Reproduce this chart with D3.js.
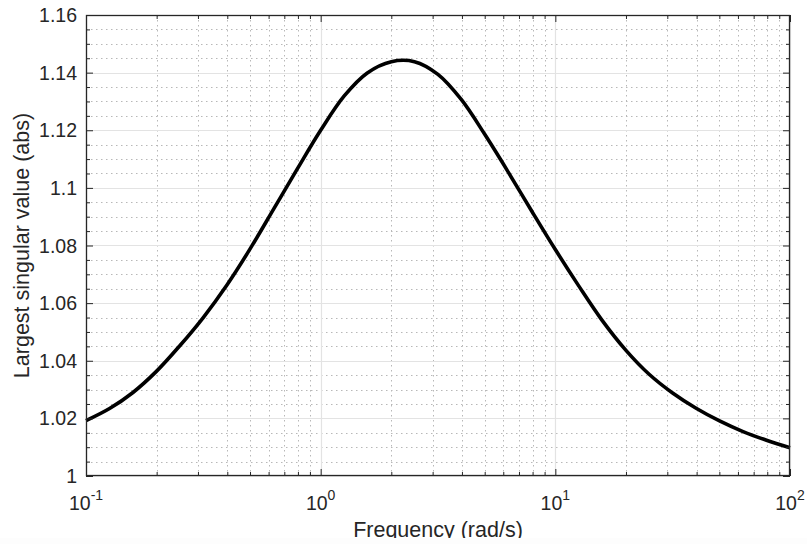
<!DOCTYPE html>
<html>
<head>
<meta charset="utf-8">
<script src="https://cdn.jsdelivr.net/npm/d3@7"></script>
<style>
  html, body { margin: 0; padding: 0; background: #ffffff; }
  svg { display: block; }
  text { font-family: "Liberation Sans", Arial, Helvetica, sans-serif; fill: #262626; }
</style>
</head>
<body>
<svg id="chart" width="807" height="544"></svg>
<script>
// ---- data (frequency in rad/s, value in abs) ----
const frequencies = [0.1, 0.126, 0.158, 0.2, 0.251, 0.316, 0.398, 0.501, 0.631, 0.794,
                     1, 1.26, 1.58, 2, 2.51, 3.16, 3.98, 5.01, 6.31, 7.94,
                     10, 12.6, 15.8, 20, 25.1, 31.6, 39.8, 50.1, 63.1, 79.4, 100];
const singularValues = [1.0192, 1.0234, 1.0289, 1.0364, 1.0452, 1.0550, 1.0662, 1.0789, 1.0927, 1.1065,
                        1.1200, 1.1319, 1.1399, 1.1438, 1.1438, 1.1394, 1.1306, 1.1185, 1.1054, 1.0919,
                        1.0786, 1.0659, 1.0541, 1.0436, 1.0353, 1.0288, 1.0235, 1.0191, 1.0154, 1.0124, 1.0098];
const xTickValues = [0.1, 1, 10, 100];
const xTickExponents = ["-1", "0", "1", "2"];
const yTickValues = [1, 1.02, 1.04, 1.06, 1.08, 1.1, 1.12, 1.14, 1.16];
const yTickLabels = ["1", "1.02", "1.04", "1.06", "1.08", "1.1", "1.12", "1.14", "1.16"];
const xLabel = "Frequency (rad/s)";
const yLabel = "Largest singular value (abs)";

// ---- layout ----
const W = 807, H = 544;
const L = 86, R = 790, T = 15, B = 476;

const svg = d3.select("#chart");
const x = d3.scaleLog().domain([0.1, 100]).range([L, R]);
const y = d3.scaleLinear().domain([1, 1.16]).range([B, T]);

// minor values
const xMinor = [];
for (let e = -1; e < 2; e++) for (let k = 2; k <= 9; k++) xMinor.push(k * Math.pow(10, e));
const yMinor = d3.range(0, 33).map(i => 1 + i * 0.005).filter(v => !yTickValues.some(t => Math.abs(t - v) < 1e-9));

const g = svg.append("g");

// minor grid (dotted)
g.selectAll(".xminor").data(xMinor).enter().append("line")
  .attr("x1", d => Math.round(x(d)) + 0.5).attr("x2", d => Math.round(x(d)) + 0.5)
  .attr("y1", T).attr("y2", B)
  .attr("stroke", "#b8b8b8").attr("stroke-width", 1).attr("stroke-dasharray", "1.5,3.5");
g.selectAll(".yminor").data(yMinor).enter().append("line")
  .attr("y1", d => Math.round(y(d)) + 0.5).attr("y2", d => Math.round(y(d)) + 0.5)
  .attr("x1", L).attr("x2", R)
  .attr("stroke", "#b8b8b8").attr("stroke-width", 1).attr("stroke-dasharray", "1.5,3.5");

// major grid
g.selectAll(".xmajor").data(xTickValues).enter().append("line")
  .attr("x1", d => Math.round(x(d)) + 0.5).attr("x2", d => Math.round(x(d)) + 0.5)
  .attr("y1", T).attr("y2", B)
  .attr("stroke", "#e3e3e3").attr("stroke-width", 1.2);
g.selectAll(".ymajor").data(yTickValues).enter().append("line")
  .attr("y1", d => Math.round(y(d)) + 0.5).attr("y2", d => Math.round(y(d)) + 0.5)
  .attr("x1", L).attr("x2", R)
  .attr("stroke", "#e3e3e3").attr("stroke-width", 1.2);

// curve
const line = d3.line()
  .x((d, i) => x(frequencies[i]))
  .y(d => y(d))
  .curve(d3.curveCatmullRom.alpha(0.5));
g.append("path").datum(singularValues)
  .attr("d", line)
  .attr("fill", "none").attr("stroke", "#000").attr("stroke-width", 3.6)
  .attr("stroke-linejoin", "round");

// axes box with inward ticks using d3 axes
const axisColor = "#262626";
function styleAxis(sel) {
  sel.select(".domain").remove();
  sel.selectAll(".tick line").attr("stroke", axisColor);
  sel.selectAll(".tick text").remove();
}
const majLen = 7, minLen = 4;
svg.append("g").attr("transform", `translate(0,${B})`)
  .call(d3.axisBottom(x).tickValues(xTickValues).tickSize(-majLen)).call(styleAxis);
svg.append("g").attr("transform", `translate(0,${B})`)
  .call(d3.axisBottom(x).tickValues(xMinor).tickSize(-minLen)).call(styleAxis);
svg.append("g").attr("transform", `translate(0,${T})`)
  .call(d3.axisTop(x).tickValues(xTickValues).tickSize(-majLen)).call(styleAxis);
svg.append("g").attr("transform", `translate(0,${T})`)
  .call(d3.axisTop(x).tickValues(xMinor).tickSize(-minLen)).call(styleAxis);
svg.append("g").attr("transform", `translate(${L},0)`)
  .call(d3.axisLeft(y).tickValues(yTickValues).tickSize(-majLen)).call(styleAxis);
svg.append("g").attr("transform", `translate(${L},0)`)
  .call(d3.axisLeft(y).tickValues(yMinor).tickSize(-minLen)).call(styleAxis);
svg.append("g").attr("transform", `translate(${R},0)`)
  .call(d3.axisRight(y).tickValues(yTickValues).tickSize(-majLen)).call(styleAxis);
svg.append("g").attr("transform", `translate(${R},0)`)
  .call(d3.axisRight(y).tickValues(yMinor).tickSize(-minLen)).call(styleAxis);

svg.append("rect").attr("x", L + 0.5).attr("y", T + 0.5)
  .attr("width", R - L - 1).attr("height", B - T - 1)
  .attr("fill", "none").attr("stroke", axisColor).attr("stroke-width", 1.3);

// y tick labels
svg.selectAll(".ylab").data(yTickValues).enter().append("text")
  .attr("x", 77).attr("y", d => y(d)).attr("dy", "0.36em")
  .attr("text-anchor", "end").attr("font-size", 19.5)
  .text((d, i) => yTickLabels[i]);

// x tick labels 10^n
xTickValues.forEach((v, i) => {
  const t = svg.append("text")
    .attr("x", x(v)).attr("y", 510)
    .attr("text-anchor", "middle").attr("font-size", 19.5);
  t.append("tspan").text("10");
  t.append("tspan").attr("dy", -10).attr("font-size", 14).text(xTickExponents[i]);
});

// axis labels
svg.append("text").attr("x", (L + R) / 2).attr("y", 537)
  .attr("text-anchor", "middle").attr("font-size", 21.5).text(xLabel);
svg.append("text").attr("transform", `translate(28.5,${(T + B) / 2}) rotate(-90)`)
  .attr("text-anchor", "middle").attr("font-size", 21.5).text(yLabel);

// bottom strip (reference is cut just below the x label)
svg.append("rect").attr("x", 0).attr("y", 538).attr("width", W).attr("height", H - 538).attr("fill", "#fdfdfd");
</script>
</body>
</html>
